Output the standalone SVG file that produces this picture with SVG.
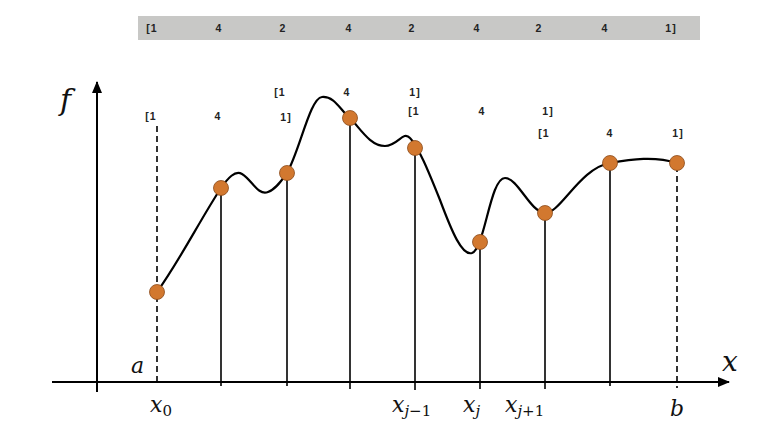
<svg xmlns="http://www.w3.org/2000/svg" width="768" height="448" viewBox="0 0 768 448">
<defs>
<marker id="arr" markerWidth="12" markerHeight="10" refX="11" refY="5" orient="auto" markerUnits="userSpaceOnUse">
<path d="M0,0 L12,5 L0,10 Z" fill="#000"/>
</marker>
<style>
.w{font-family:"Liberation Sans",Arial,sans-serif;font-weight:bold;font-size:10.5px;fill:#222;text-anchor:middle;letter-spacing:1px}
.m{font-family:"DejaVu Serif","Liberation Serif",serif;font-style:italic;fill:#111}
.v{stroke:#000;stroke-width:1.6;fill:none}
.d{stroke:#000;stroke-width:1.6;stroke-dasharray:6,4;fill:none}
.p{fill:#D2782F;stroke:#8a4a1a;stroke-width:0.8}
</style>
</defs>
<rect width="768" height="448" fill="#fff"/>
<g id="weights-bar">
<rect x="138" y="16" width="562" height="24" fill="#c8c8c6"/>
<text class="w" x="152" y="32">[1</text>
<text class="w" x="219" y="32">4</text>
<text class="w" x="283" y="32">2</text>
<text class="w" x="349" y="32">4</text>
<text class="w" x="412" y="32">2</text>
<text class="w" x="477" y="32">4</text>
<text class="w" x="539" y="32">2</text>
<text class="w" x="605" y="32">4</text>
<text class="w" x="671" y="32">1]</text>
</g>
<g id="local-weights">
<text class="w" x="151" y="120">[1</text>
<text class="w" x="218" y="120">4</text>
<text class="w" x="286" y="121">1]</text>
<text class="w" x="280" y="96">[1</text>
<text class="w" x="347" y="96">4</text>
<text class="w" x="415" y="96">1]</text>
<text class="w" x="414" y="115">[1</text>
<text class="w" x="482" y="115">4</text>
<text class="w" x="548" y="115">1]</text>
<text class="w" x="544" y="137">[1</text>
<text class="w" x="610" y="137">4</text>
<text class="w" x="678" y="137">1]</text>
</g>
<g id="connectors">
<line x1="52" y1="382" x2="729" y2="382" stroke="#000" stroke-width="2" marker-end="url(#arr)"/>
<line x1="97" y1="392" x2="97" y2="82" stroke="#000" stroke-width="2" marker-end="url(#arr)"/>
<line class="d" x1="157" y1="126" x2="157" y2="386"/>
<line class="d" x1="677" y1="166" x2="677" y2="388"/>
<line class="v" x1="221" y1="188" x2="221" y2="386"/>
<line class="v" x1="287" y1="173" x2="287" y2="386"/>
<line class="v" x1="350" y1="118" x2="350" y2="389"/>
<line class="v" x1="415" y1="148" x2="415" y2="390"/>
<line class="v" x1="480" y1="242" x2="480" y2="389"/>
<line class="v" x1="545" y1="213" x2="545" y2="389"/>
<line class="v" x1="610" y1="163" x2="610" y2="386"/>
<path d="M157,292 C180,260 200,220 221,188 C228,178 235,170 242,174 C252,180 258,196 268,192 C276,189 282,180 287,173 C300,150 310,98 322,97 C335,96 340,110 350,118 C360,128 370,146 385,146 C398,146 403,130 410,138 C418,146 428,170 440,200 C452,232 462,256 472,253 C485,248 490,178 505,178 C518,178 530,212 545,213 C560,214 580,168 610,163 C632,159 655,156 677,163" stroke="#000" stroke-width="2.2" fill="none"/>
</g>
<g id="points">
<circle class="p" cx="157" cy="292" r="7.5"/>
<circle class="p" cx="221" cy="188" r="7.5"/>
<circle class="p" cx="287" cy="173" r="7.5"/>
<circle class="p" cx="350" cy="118" r="7.5"/>
<circle class="p" cx="415" cy="148" r="7.5"/>
<circle class="p" cx="480" cy="242" r="7.5"/>
<circle class="p" cx="545" cy="213" r="7.5"/>
<circle class="p" cx="610" cy="163" r="7.5"/>
<circle class="p" cx="677" cy="163" r="7.5"/>
</g>
<g id="labels">
<text class="m" x="60" y="110" font-size="30">f</text>
<text class="m" x="722" y="371" font-size="28">x</text>
<text class="m" x="131" y="373" font-size="22">a</text>
<text class="m" x="150" y="412" font-size="22">x<tspan font-size="15" font-style="normal" dy="4">0</tspan></text>
<text class="m" x="392" y="412" font-size="22">x<tspan font-size="15" dy="4">j</tspan><tspan font-size="15" font-style="normal">−1</tspan></text>
<text class="m" x="463" y="412" font-size="22">x<tspan font-size="15" dy="4">j</tspan></text>
<text class="m" x="505" y="412" font-size="22">x<tspan font-size="15" dy="4">j</tspan><tspan font-size="15" font-style="normal">+1</tspan></text>
<text class="m" x="670" y="416" font-size="22">b</text>
</g>
</svg>
